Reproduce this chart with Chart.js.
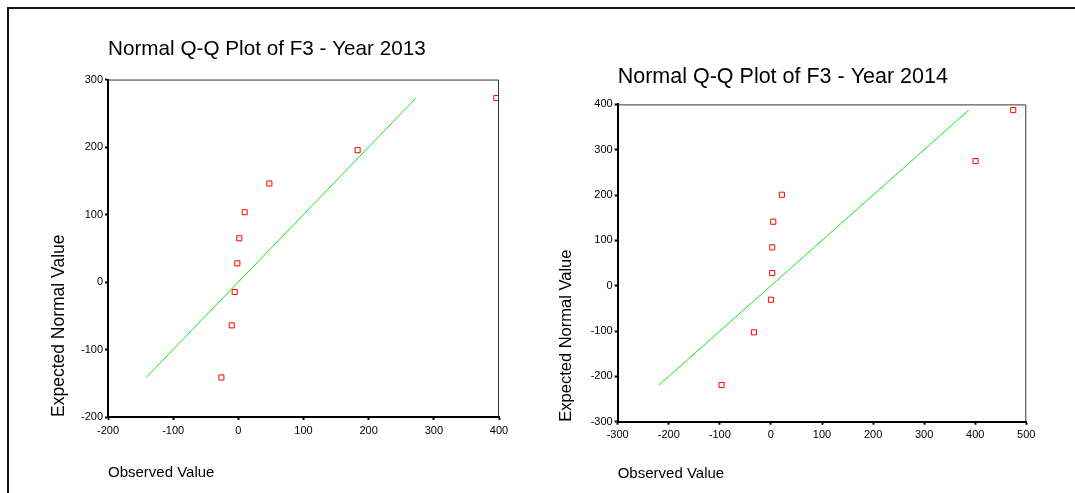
<!DOCTYPE html>
<html>
<head>
<meta charset="utf-8">
<script src="https://cdn.jsdelivr.net/npm/chart.js@4"></script>
<style>
  body { margin: 0; background: #fff; }
  #frame { position: absolute; left: 7px; top: 7px; right: 0; bottom: 0; border-left: 2px solid #111; border-top: 2px solid #111; }
  canvas { position: absolute; top: 0; }
  #c2013 { left: 0; }
  #c2014 { left: 540px; }
</style>
</head>
<body>
<div id="frame"></div>
<canvas id="c2013" width="540" height="493"></canvas>
<canvas id="c2014" width="535" height="493"></canvas>
<script>
// Year 2013: observed values and their expected normal values
const observed2013 = [396, 183, 47.6, 9.7, 1.5, -1.5, -5.6, -10.2, -26];
const expected2013 = [272.6, 195.4, 146, 103.4, 64.8, 27.7, -14.8, -64.2, -141.4];
const refLine2013 = [-141.4, 272.6];

// Year 2014
const observed2014 = [474.4, 400.7, 21.5, 4.6, 2.6, 2.6, 0, -33.3, -96.6];
const expected2014 = [387.5, 275, 200.7, 141.2, 84.6, 27.9, -30.9, -102.9, -219.1];
const refLine2014 = [-219.1, 387.5];

const xRange2013 = [-200, 400];
const yRange2013 = [-200, 300];
const xRange2014 = [-300, 500];
const yRange2014 = [-300, 400];

const SANS = "'Liberation Sans', Arial, sans-serif";

// thin top/right edges of the plot box
const boxEdges = {
    id: 'boxEdges',
    afterDraw(chart) {
        const a = chart.chartArea;
        const ctx = chart.ctx;
        ctx.save();
        ctx.strokeStyle = '#333';
        ctx.lineWidth = 1;
        ctx.beginPath();
        ctx.moveTo(a.left, a.top + 0.5);
        ctx.lineTo(a.right - 0.5, a.top + 0.5);
        ctx.lineTo(a.right - 0.5, a.bottom);
        ctx.stroke();
        ctx.restore();
    }
};

function axis(range, fixed, isX, titleText, titleSize, titlePad) {
    return {
        type: 'linear',
        min: range[0],
        max: range[1],
        ticks: {
            stepSize: 100,
            color: '#000',
            padding: isX ? 4 : 2,
            font: { family: SANS, size: 11 }
        },
        grid: {
            display: true,
            drawOnChartArea: false,
            drawTicks: true,
            tickLength: 3,
            tickWidth: 2,
            tickColor: '#000'
        },
        border: { display: true, color: '#000', width: 2 },
        title: {
            display: true,
            text: titleText,
            align: 'start',
            color: '#000',
            font: { family: SANS, size: titleSize },
            padding: titlePad
        },
        afterFit(scale) {
            if (isX) scale.height = fixed; else scale.width = fixed;
        }
    };
}

function makeChart(id, cfg) {
    const points = cfg.observed.map((x, i) => ({ x: x, y: cfg.expected[i] }));
    const line = cfg.refLine.map(v => ({ x: v, y: v }));
    return new Chart(document.getElementById(id), {
        type: 'scatter',
        data: {
            datasets: [{
                data: line,
                showLine: true,
                borderColor: 'rgb(20, 230, 20)',
                borderWidth: 1,
                pointRadius: 0
            }, {
                data: points,
                pointStyle: 'rect',
                pointRadius: 3.6,
                borderWidth: 1,
                borderColor: '#ff0000',
                backgroundColor: '#ffffff'
            }]
        },
        options: {
            responsive: false,
            animation: false,
            layout: { padding: cfg.padding },
            plugins: {
                legend: { display: false },
                tooltip: { enabled: false },
                title: {
                    display: true,
                    text: cfg.title,
                    align: 'start',
                    fullSize: false,
                    color: '#000',
                    font: { family: SANS, size: cfg.titleSize, weight: 'normal' },
                    padding: cfg.titlePad
                }
            },
            scales: {
                x: axis(cfg.xRange, cfg.xHeight, true, 'Observed Value', 15, { top: 0, bottom: cfg.xTitleBottom }),
                y: axis(cfg.yRange, cfg.yWidth, false, 'Expected Normal Value', cfg.yTitleSize, { top: cfg.yTitleTop, bottom: 0 })
            }
        },
        plugins: [boxEdges]
    });
}

makeChart('c2013', {
    title: 'Normal Q-Q Plot of F3 - Year 2013',
    titleSize: 20.7,
    observed: observed2013,
    expected: expected2013,
    refLine: refLine2013,
    xRange: xRange2013,
    yRange: yRange2013,
    padding: { left: 40, right: 41, top: 0, bottom: 0 },
    titlePad: { top: 36.6, bottom: 18.1 },
    yWidth: 68,
    xHeight: 76,
    xTitleBottom: 11,
    yTitleSize: 17.5,
    yTitleTop: 8.5
});

makeChart('c2014', {
    title: 'Normal Q-Q Plot of F3 - Year 2014',
    titleSize: 21.5,
    observed: observed2014,
    expected: expected2014,
    refLine: refLine2014,
    xRange: xRange2014,
    yRange: yRange2014,
    padding: { left: 5, right: 48.7, top: 0, bottom: 0 },
    titlePad: { top: 63.8, bottom: 14.8 },
    yWidth: 72.7,
    xHeight: 71.3,
    xTitleBottom: 10,
    yTitleSize: 16.5,
    yTitleTop: 11.8
});
</script>
</body>
</html>
